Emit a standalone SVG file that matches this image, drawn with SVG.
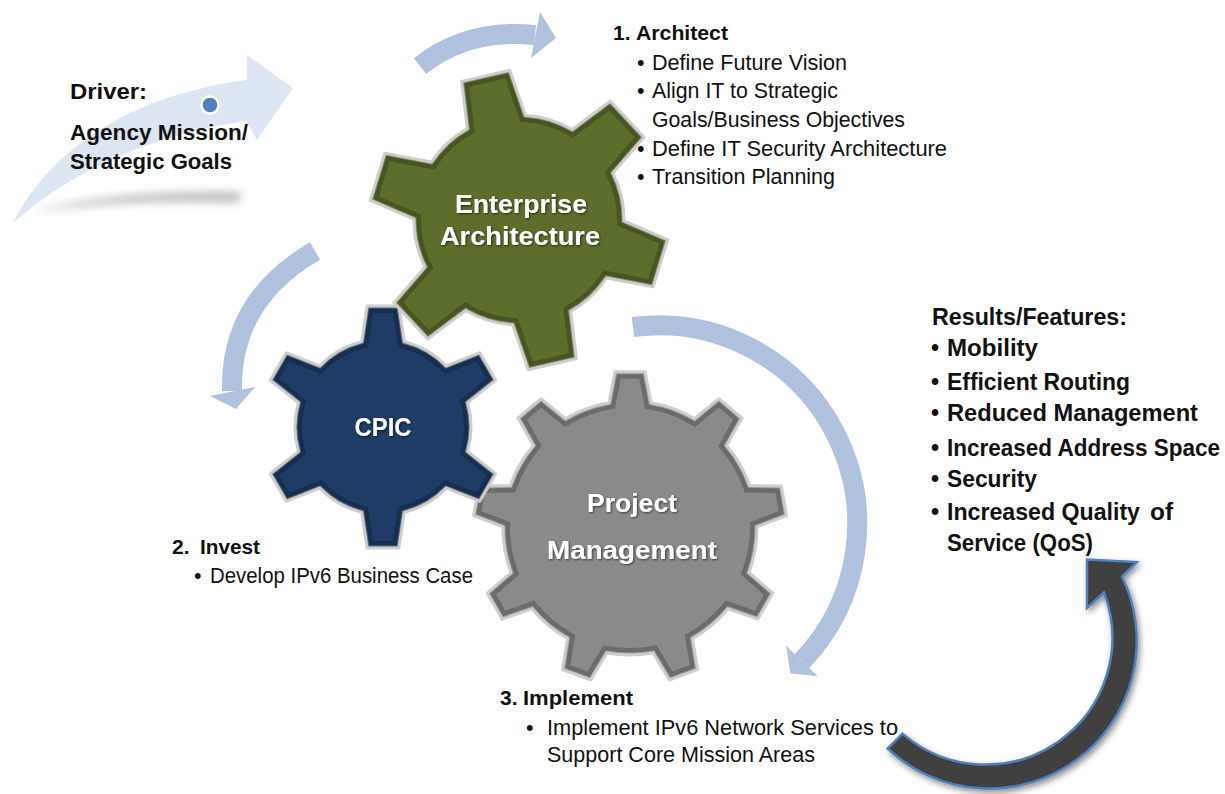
<svg xmlns="http://www.w3.org/2000/svg" xmlns:xlink="http://www.w3.org/1999/xlink" width="1225" height="794" viewBox="0 0 1225 794">
<style>
.t{font-family:"Liberation Sans",Arial,sans-serif;fill:#111;font-size:21.5px}
.b{font-weight:bold;font-size:21px}
.rb{font-weight:bold;font-size:23px}
.d{font-weight:bold;font-size:22px}
.gl{font-family:"Liberation Sans",Arial,sans-serif;font-weight:bold;fill:#fff;font-size:26px;text-anchor:middle}
.flow{fill:none;stroke:#afc1dd;stroke-width:20}
.head{fill:#afc1dd}
.rim{fill:none;stroke:#cdcdcd;stroke-width:3;stroke-linejoin:round}
.inD{fill:none;stroke:#000;stroke-opacity:0.22;stroke-width:14}
.inL{fill:none;stroke:#fff;stroke-opacity:0.3;stroke-width:5}
</style>
<defs>
<filter id="blur4" x="-20%" y="-100%" width="140%" height="300%"><feGaussianBlur stdDeviation="4"/></filter>
<filter id="dsh" x="-20%" y="-20%" width="140%" height="140%"><feDropShadow dx="2" dy="3" stdDeviation="3" flood-color="#000" flood-opacity="0.45"/></filter>
<filter id="tsh" x="-10%" y="-20%" width="120%" height="150%"><feDropShadow dx="1" dy="1" stdDeviation="0.8" flood-color="#000" flood-opacity="0.6"/></filter>
<path id="gEA" d="M 624.0,220.9 L 667.7,239.6 L 653.2,286.9 L 606.6,278.0 A 105 105 0 0 1 570.7,311.4 L 576.4,358.6 L 528.2,369.7 L 512.6,324.8 A 105 105 0 0 1 465.7,310.5 L 427.7,339.0 L 393.9,302.8 L 425.0,266.9 A 105 105 0 0 1 414.0,219.1 L 370.3,200.4 L 384.8,153.1 L 431.4,162.0 A 105 105 0 0 1 467.3,128.6 L 461.6,81.4 L 509.8,70.3 L 525.4,115.2 A 105 105 0 0 1 572.3,129.5 L 610.3,101.0 L 644.1,137.2 L 613.0,173.1 A 105 105 0 0 1 624.0,220.9 Z"/>
<path id="gCP" d="M 361.7,341.6 L 367.1,306.0 L 398.9,306.0 L 404.3,341.6 A 88 88 0 0 1 446.3,365.9 L 479.8,352.7 L 495.7,380.3 L 467.6,402.7 A 88 88 0 0 1 467.6,451.3 L 495.7,473.7 L 479.8,501.3 L 446.3,488.1 A 88 88 0 0 1 404.3,512.4 L 398.9,548.0 L 367.1,548.0 L 361.7,512.4 A 88 88 0 0 1 319.7,488.1 L 286.2,501.3 L 270.3,473.7 L 298.4,451.3 A 88 88 0 0 1 298.4,402.7 L 270.3,380.3 L 286.2,352.7 L 319.7,365.9 A 88 88 0 0 1 361.7,341.6 Z"/>
<path id="gPM" d="M 609.0,402.7 L 615.0,371.7 L 645.0,371.7 L 651.0,402.7 A 127 127 0 0 1 694.5,418.6 L 718.9,398.6 L 742.0,418.0 L 726.6,445.5 A 127 127 0 0 1 749.7,485.6 L 781.3,486.0 L 786.5,515.7 L 757.0,526.9 A 127 127 0 0 1 749.0,572.5 L 772.9,593.1 L 757.8,619.2 L 728.0,608.8 A 127 127 0 0 1 692.5,638.5 L 697.6,669.7 L 669.3,680.0 L 653.1,652.9 A 127 127 0 0 1 606.9,652.9 L 590.7,680.0 L 562.4,669.7 L 567.5,638.5 A 127 127 0 0 1 532.0,608.8 L 502.2,619.2 L 487.1,593.1 L 511.0,572.5 A 127 127 0 0 1 503.0,526.9 L 473.5,515.7 L 478.7,486.0 L 510.3,485.6 A 127 127 0 0 1 533.4,445.5 L 518.0,418.0 L 541.1,398.6 L 565.5,418.6 A 127 127 0 0 1 609.0,402.7 Z"/>
<clipPath id="cEA"><use xlink:href="#gEA"/></clipPath>
<clipPath id="cCP"><use xlink:href="#gCP"/></clipPath>
<clipPath id="cPM"><use xlink:href="#gPM"/></clipPath>
</defs>
<rect width="1225" height="794" fill="#fff"/>

<g id="driver">
<path d="M 30,212 Q 120,189 240,192 Q 244,199 236,203 Q 130,199 30,212 Z" fill="#8c8c8c" opacity="0.55" filter="url(#blur4)"/>
<path d="M 13,223 C 50,150 130,95 247,80 L 247,55 L 293,88 L 257,140 L 246,121 C 150,135 70,172 13,223 Z" fill="#dce6f2"/>
<circle cx="210" cy="105" r="8.5" fill="#4f81bd" stroke="#fff" stroke-width="2.5"/>
<text class="t d" x="70" y="99" textLength="77" lengthAdjust="spacingAndGlyphs">Driver:</text>
<text class="t d" x="70" y="140" textLength="178" lengthAdjust="spacingAndGlyphs">Agency Mission/</text>
<text class="t d" x="70" y="169" textLength="162" lengthAdjust="spacingAndGlyphs">Strategic Goals</text>
</g>

<g id="connectors">
<path class="flow" d="M 420,66 Q 468,28 535,35" stroke-width="18"/>
<polygon class="head" points="540,12 556,38 531,58"/>
<path class="flow" d="M 315,251 Q 230,300 232,391"/>
<polygon class="head" points="210,396 255,387 236,409"/>
<path class="flow" d="M 633,327 A 198.4 198.4 0 0 1 802,661"/>
<polygon class="head" points="786.1,645.8 817.9,676.2 790.3,673.3"/>
<path d="M 887.7,748.5 A 147.8 147.8 0 0 0 1122,576.5 L 1137,562 L 1087,559.5 L 1087,608 L 1104,592.5 A 126.8 126.8 0 0 1 902.5,733.6 Z" fill="#404040" stroke="#4f81bd" stroke-width="2.5" stroke-linejoin="miter" filter="url(#dsh)"/>
</g>

<g id="node-pm">
<use xlink:href="#gPM" fill="#8a8a8a"/>
<g clip-path="url(#cPM)">
<use xlink:href="#gPM" class="inD"/>
<use xlink:href="#gPM" class="inL"/>
</g>
<use xlink:href="#gPM" class="rim"/>
<text class="gl" x="632" y="512" textLength="90" lengthAdjust="spacingAndGlyphs" filter="url(#tsh)">Project</text>
<text class="gl" x="632" y="559" textLength="170" lengthAdjust="spacingAndGlyphs" filter="url(#tsh)">Management</text>
</g>

<g id="node-cpic">
<use xlink:href="#gCP" fill="#1f3c66"/>
<g clip-path="url(#cCP)">
<use xlink:href="#gCP" class="inD"/>
<use xlink:href="#gCP" class="inL"/>
</g>
<use xlink:href="#gCP" class="rim"/>
<text class="gl" x="383" y="436" textLength="57" lengthAdjust="spacingAndGlyphs" filter="url(#tsh)">CPIC</text>
</g>

<g id="node-ea">
<use xlink:href="#gEA" fill="#5b6e2c"/>
<g clip-path="url(#cEA)">
<use xlink:href="#gEA" class="inD"/>
<use xlink:href="#gEA" class="inL"/>
</g>
<use xlink:href="#gEA" class="rim"/>
<text class="gl" x="521" y="213" textLength="132" lengthAdjust="spacingAndGlyphs" filter="url(#tsh)">Enterprise</text>
<text class="gl" x="520" y="245" textLength="160" lengthAdjust="spacingAndGlyphs" filter="url(#tsh)">Architecture</text>
</g>

<g id="architect">
<text class="t b" x="613" y="40">1.</text>
<text class="t b" x="636" y="40" textLength="92" lengthAdjust="spacingAndGlyphs">Architect</text>
<text class="t" x="637" y="70">•</text>
<text class="t" x="652" y="70" textLength="195" lengthAdjust="spacingAndGlyphs">Define Future Vision</text>
<text class="t" x="637" y="98">•</text>
<text class="t" x="652" y="98" textLength="186" lengthAdjust="spacingAndGlyphs">Align IT to Strategic</text>
<text class="t" x="652" y="127" textLength="253" lengthAdjust="spacingAndGlyphs">Goals/Business Objectives</text>
<text class="t" x="637" y="156">•</text>
<text class="t" x="652" y="156" textLength="295" lengthAdjust="spacingAndGlyphs">Define IT Security Architecture</text>
<text class="t" x="637" y="184">•</text>
<text class="t" x="652" y="184" textLength="183" lengthAdjust="spacingAndGlyphs">Transition Planning</text>
</g>

<g id="invest">
<text class="t b" x="172" y="554">2.</text>
<text class="t b" x="200" y="554" textLength="60" lengthAdjust="spacingAndGlyphs">Invest</text>
<text class="t" x="194" y="583">•</text>
<text class="t" x="210" y="583" textLength="263" lengthAdjust="spacingAndGlyphs">Develop IPv6 Business Case</text>
</g>

<g id="implement">
<text class="t b" x="500" y="705">3.</text>
<text class="t b" x="523" y="705" textLength="110" lengthAdjust="spacingAndGlyphs">Implement</text>
<text class="t" x="526" y="735">•</text>
<text class="t" x="547" y="735" textLength="351" lengthAdjust="spacingAndGlyphs">Implement IPv6 Network Services to</text>
<text class="t" x="547" y="762" textLength="268" lengthAdjust="spacingAndGlyphs">Support Core Mission Areas</text>
</g>

<g id="results">
<text class="t rb" x="932" y="325" textLength="195" lengthAdjust="spacingAndGlyphs">Results/Features:</text>
<text class="t rb" x="931" y="356">•</text>
<text class="t rb" x="947" y="356" textLength="91" lengthAdjust="spacingAndGlyphs">Mobility</text>
<text class="t rb" x="931" y="390">•</text>
<text class="t rb" x="947" y="390" textLength="183" lengthAdjust="spacingAndGlyphs">Efficient Routing</text>
<text class="t rb" x="931" y="421">•</text>
<text class="t rb" x="947" y="421" textLength="251" lengthAdjust="spacingAndGlyphs">Reduced Management</text>
<text class="t rb" x="931" y="456">•</text>
<text class="t rb" x="947" y="456" textLength="273" lengthAdjust="spacingAndGlyphs">Increased Address Space</text>
<text class="t rb" x="931" y="487">•</text>
<text class="t rb" x="947" y="487" textLength="90" lengthAdjust="spacingAndGlyphs">Security</text>
<text class="t rb" x="931" y="520">•</text>
<text class="t rb" x="947" y="520" textLength="193" lengthAdjust="spacingAndGlyphs">Increased Quality</text>
<text class="t rb" x="1150" y="520" textLength="23" lengthAdjust="spacingAndGlyphs">of</text>
<text class="t rb" x="947" y="551" textLength="146" lengthAdjust="spacingAndGlyphs">Service (QoS)</text>
</g>
</svg>
